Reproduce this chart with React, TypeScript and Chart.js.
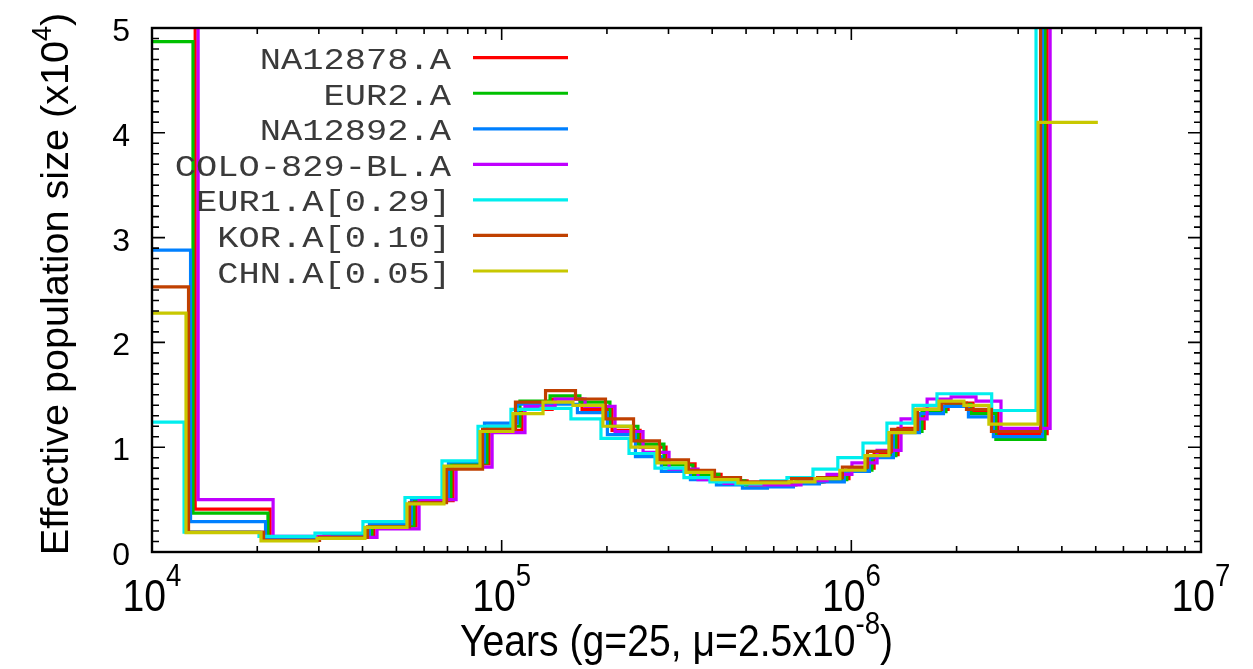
import React, { useEffect, useRef } from "react";
import { Chart, registerables } from "chart.js";

Chart.register(...registerables);

// ---------- axis ranges & tick labels ----------
const X_MIN = 1e4;
const X_MAX = 1e7;
const Y_MIN = 0;
const Y_MAX = 5;
const X_TICK_EXPONENTS = [4, 5, 6, 7];
const Y_TICK_VALUES = [0, 1, 2, 3, 4, 5];
const Y_TICK_LABELS = ["0", "1", "2", "3", "4", "5"];
const X_TITLE = ["Years (g=25, \u03bc=2.5x10", "-8", ")"];
const Y_TITLE = ["Effective population size (x10", "4", ")"];

// ---------- series ----------
const SERIES_LABELS = [
  "NA12878.A",
  "EUR2.A",
  "NA12892.A",
  "COLO-829-BL.A",
  "EUR1.A[0.29]",
  "KOR.A[0.10]",
  "CHN.A[0.05]",
];
const SERIES_COLORS = ["#ff0000", "#00c000", "#0080ff", "#c000ff", "#00eeee", "#c04000", "#c8c800"];

// Each *_T array: start year of each step (last entry = end of last step). *_N: Ne (x10^4) of each step.
const NA12878_T = [8000, 13290, 21770, 31480, 43160, 56920, 72630, 92080, 114400, 139400, 169800, 206900, 248800, 295200, 357400, 424100, 503400, 593300, 704100, 835800, 984500, 1161800, 1360400, 1615300, 1891400, 2229100, 2627400, 3631000, 5500000];
const NA12878_N = [10.0, 0.41, 0.14, 0.16, 0.25, 0.49, 0.84, 1.16, 1.36, 1.46, 1.36, 1.16, 1.0, 0.84, 0.74, 0.68, 0.64, 0.65, 0.67, 0.70, 0.80, 0.93, 1.18, 1.36, 1.42, 1.33, 1.13, 9.0];

const EUR2_T = [8000, 13100, 21460, 31030, 42550, 56120, 71610, 90770, 112800, 137500, 167400, 204000, 245300, 291100, 352300, 418100, 496300, 585000, 694200, 824000, 970600, 1145400, 1341200, 1592500, 1864700, 2197700, 2590300, 3579700, 5400000];
const EUR2_N = [4.87, 0.37, 0.14, 0.16, 0.25, 0.5, 0.85, 1.2, 1.44, 1.49, 1.43, 1.2, 1.03, 0.83, 0.74, 0.68, 0.64, 0.64, 0.67, 0.69, 0.78, 0.92, 1.15, 1.34, 1.41, 1.32, 1.075, 9.0];

const NA12892_T = [8000, 12890, 21120, 30530, 41860, 55210, 70440, 89300, 110900, 135200, 164700, 200600, 241300, 286300, 346600, 411300, 488200, 575500, 682900, 810600, 954800, 1126800, 1319400, 1566600, 1834400, 2162000, 2548200, 3521600, 5300000];
const NA12892_N = [2.88, 0.29, 0.14, 0.15, 0.27, 0.51, 0.86, 1.23, 1.41, 1.41, 1.33, 1.12, 0.91, 0.77, 0.69, 0.64, 0.61, 0.62, 0.65, 0.67, 0.77, 0.9, 1.14, 1.32, 1.39, 1.29, 1.1, 9.0];

const COLO829_T = [8000, 13550, 22200, 32100, 44010, 58050, 74070, 93900, 116600, 142200, 173200, 211000, 253700, 301100, 364400, 432400, 513300, 605100, 718000, 852300, 1003900, 1184800, 1387300, 1647200, 1928800, 2273200, 2679300, 3702800, 5600000];
const COLO829_N = [11.0, 0.5, 0.15, 0.14, 0.22, 0.5, 0.81, 1.14, 1.39, 1.46, 1.39, 1.15, 0.95, 0.79, 0.69, 0.655, 0.64, 0.64, 0.68, 0.74, 0.85, 0.97, 1.27, 1.46, 1.48, 1.44, 1.18, 9.0];

const EUR1_T = [8000, 12350, 20230, 29250, 40110, 52900, 67500, 85570, 106300, 129600, 157800, 192300, 231300, 274400, 332100, 394100, 467800, 551400, 654400, 776800, 914900, 1079800, 1264300, 1501200, 1757800, 2520000, 3374600, 5000000];
const EUR1_N = [1.24, 0.19, 0.15, 0.18, 0.29, 0.52, 0.87, 1.2, 1.36, 1.37, 1.27, 1.085, 0.94, 0.8, 0.71, 0.67, 0.65, 0.68, 0.71, 0.79, 0.9, 1.04, 1.23, 1.4, 1.51, 1.35, 9.0];

const KOR_T = [8000, 12720, 20850, 30140, 41330, 54510, 69550, 88170, 109500, 133500, 162600, 198100, 238300, 282700, 342200, 406100, 482100, 568200, 674300, 800400, 942800, 1112600, 1302800, 1546900, 1811300, 2134700, 2516100, 3477100, 5200000];
const KOR_N = [2.53, 0.19, 0.11, 0.14, 0.24, 0.47, 0.79, 1.17, 1.43, 1.54, 1.46, 1.27, 1.06, 0.88, 0.78, 0.71, 0.67, 0.67, 0.7, 0.71, 0.81, 0.96, 1.17, 1.36, 1.42, 1.36, 1.15, 9.0];

const CHN_T = [8000, 12510, 20500, 29640, 40640, 53600, 68390, 86700, 107700, 131300, 159900, 194800, 234300, 278000, 336500, 399300, 474000, 558700, 663000, 787000, 927000, 1094000, 1281000, 1521000, 1781000, 2099000, 2474000, 3419000, 5070000];
const CHN_N = [2.28, 0.184, 0.105, 0.13, 0.235, 0.46, 0.82, 1.15, 1.32, 1.43, 1.4, 1.2, 1.0, 0.85, 0.76, 0.69, 0.66, 0.66, 0.67, 0.7, 0.78, 0.92, 1.14, 1.36, 1.44, 1.4, 1.22, 4.1];

const SERIES_T = [NA12878_T, EUR2_T, NA12892_T, COLO829_T, EUR1_T, KOR_T, CHN_T];
const SERIES_N = [NA12878_N, EUR2_N, NA12892_N, COLO829_N, EUR1_N, KOR_N, CHN_N];

// ---------- fonts ----------
const SANS = '"Liberation Sans", Arial, Helvetica, sans-serif';
const MONO = '"Liberation Mono", "Courier New", monospace';

function drawScaled(
  ctx: CanvasRenderingContext2D,
  text: string,
  x: number,
  y: number,
  font: string,
  sx: number,
  align: CanvasTextAlign
) {
  ctx.save();
  ctx.font = font;
  ctx.textAlign = align;
  ctx.textBaseline = "alphabetic";
  ctx.translate(x, y);
  ctx.scale(sx, 1);
  ctx.fillText(text, 0, 0);
  ctx.restore();
}

function textWidth(ctx: CanvasRenderingContext2D, text: string, font: string, sx: number) {
  ctx.save();
  ctx.font = font;
  const w = ctx.measureText(text).width * sx;
  ctx.restore();
  return w;
}

const framePlugin = {
  id: "gnuframe",
  afterDatasetsDraw(chart: any) {
    const ctx: CanvasRenderingContext2D = chart.ctx;
    const xs = chart.scales.x;
    const ys = chart.scales.y;
    const { left, right, top, bottom } = chart.chartArea;
    ctx.save();

    // legend (gnuplot style: right-aligned text, sample line to the right)
    const legendTextRight = 451;
    const sampleX0 = 473;
    const sampleX1 = 568;
    const row0 = 57.7;
    const rowStep = 35.55;
    const legFont = `30px ${MONO}`;
    chart.data.datasets.forEach((ds: any, i: number) => {
      const ry = row0 + i * rowStep;
      ctx.fillStyle = "#3a3a3a";
      drawScaled(ctx, ds.label, legendTextRight, ry + 11.5, legFont, 1.18, "right");
      ctx.strokeStyle = ds.borderColor;
      ctx.lineWidth = 3.2;
      ctx.beginPath();
      ctx.moveTo(sampleX0, ry);
      ctx.lineTo(sampleX1, ry);
      ctx.stroke();
    });

    // ticks
    ctx.strokeStyle = "#000";
    ctx.lineWidth = 1.6;
    ctx.beginPath();
    for (let e = X_TICK_EXPONENTS[0]; e <= X_TICK_EXPONENTS[X_TICK_EXPONENTS.length - 1]; e++) {
      for (let m = 1; m <= 9; m++) {
        const v = m * Math.pow(10, e);
        if (v > X_MAX * 1.0001) break;
        const px = xs.getPixelForValue(v);
        const len = m === 1 ? 12 : 6;
        ctx.moveTo(px, bottom);
        ctx.lineTo(px, bottom - len);
        ctx.moveTo(px, top);
        ctx.lineTo(px, top + len);
      }
    }
    for (let k = 0; k <= (Y_MAX - Y_MIN) * 10; k++) {
      const v = Y_MIN + k / 10;
      const py = ys.getPixelForValue(v);
      const len = k % 10 === 0 ? 13 : 7;
      ctx.moveTo(left, py);
      ctx.lineTo(left + len, py);
      ctx.moveTo(right, py);
      ctx.lineTo(right - len, py);
    }
    ctx.stroke();

    // border
    ctx.lineWidth = 2.4;
    ctx.strokeRect(left, top, right - left, bottom - top);

    ctx.fillStyle = "#000";
    // y tick labels
    const yFont = `32px ${SANS}`;
    Y_TICK_VALUES.forEach((v, i) => {
      const py = ys.getPixelForValue(v);
      drawScaled(ctx, Y_TICK_LABELS[i], 130, py + 13, yFont, 1, "right");
    });

    // x tick labels 10^e
    const xsx = 0.89;
    const xBase = `44px ${SANS}`;
    const xSup = `31px ${SANS}`;
    X_TICK_EXPONENTS.forEach((e) => {
      const px = xs.getPixelForValue(Math.pow(10, e));
      const w1 = textWidth(ctx, "10", xBase, xsx);
      const w2 = textWidth(ctx, String(e), xSup, xsx);
      const x0 = px - (w1 + w2) / 2;
      drawScaled(ctx, "10", x0, 611, xBase, xsx, "left");
      drawScaled(ctx, String(e), x0 + w1, 586, xSup, xsx, "left");
    });

    // x title
    {
      const w1 = textWidth(ctx, X_TITLE[0], xBase, xsx);
      const w2 = textWidth(ctx, X_TITLE[1], xSup, xsx);
      const w3 = textWidth(ctx, X_TITLE[2], xBase, xsx);
      const cx = (left + right) / 2;
      const x0 = cx - (w1 + w2 + w3) / 2;
      const by = 656;
      drawScaled(ctx, X_TITLE[0], x0, by, xBase, xsx, "left");
      drawScaled(ctx, X_TITLE[1], x0 + w1, by - 22, xSup, xsx, "left");
      drawScaled(ctx, X_TITLE[2], x0 + w1 + w2, by, xBase, xsx, "left");
    }

    // y title (rotated)
    {
      const f1 = `39.6px ${SANS}`;
      const f2 = `27px ${SANS}`;
      const w1 = textWidth(ctx, Y_TITLE[0], f1, 1);
      const w2 = textWidth(ctx, Y_TITLE[1], f2, 1);
      const w3 = textWidth(ctx, Y_TITLE[2], f1, 1);
      const total = w1 + w2 + w3;
      ctx.save();
      ctx.translate(68, 284);
      ctx.rotate(-Math.PI / 2);
      const s = -total / 2;
      drawScaled(ctx, Y_TITLE[0], s, 0, f1, 1, "left");
      drawScaled(ctx, Y_TITLE[1], s + w1, -17, f2, 1, "left");
      drawScaled(ctx, Y_TITLE[2], s + w1 + w2, 0, f1, 1, "left");
      ctx.restore();
    }

    ctx.restore();
  },
};

export default function App() {
  const ref = useRef<HTMLCanvasElement>(null);
  useEffect(() => {
    document.body.style.margin = "0";
    const datasets = SERIES_LABELS.map((label, i) => {
      const T = SERIES_T[i];
      const N = SERIES_N[i];
      return {
        label,
        data: T.map((t, k) => ({ x: t, y: N[Math.min(k, N.length - 1)] })),
        borderColor: SERIES_COLORS[i],
        backgroundColor: SERIES_COLORS[i],
        borderWidth: 3.2,
        stepped: true as const,
        pointRadius: 0,
        fill: false,
        order: SERIES_LABELS.length - 1 - i,
      };
    });
    const chart = new Chart(ref.current as HTMLCanvasElement, {
      type: "line",
      data: { datasets },
      options: {
        animation: false,
        responsive: false,
        devicePixelRatio: 1,
        events: [],
        layout: { padding: { left: 152, right: 52, top: 28, bottom: 117 } },
        plugins: { legend: { display: false }, tooltip: { enabled: false } },
        scales: {
          x: { type: "logarithmic", min: X_MIN, max: X_MAX, display: false },
          y: { type: "linear", min: Y_MIN, max: Y_MAX, display: false },
        },
        elements: { line: { tension: 0 }, point: { radius: 0 } },
      },
      plugins: [framePlugin],
    });
    return () => chart.destroy();
  }, []);
  return (
    <div style={{ position: "absolute", left: 0, top: 0, width: 1253, height: 669, background: "#fff" }}>
      <canvas ref={ref} width={1253} height={669} style={{ display: "block", width: 1253, height: 669 }} />
    </div>
  );
}
